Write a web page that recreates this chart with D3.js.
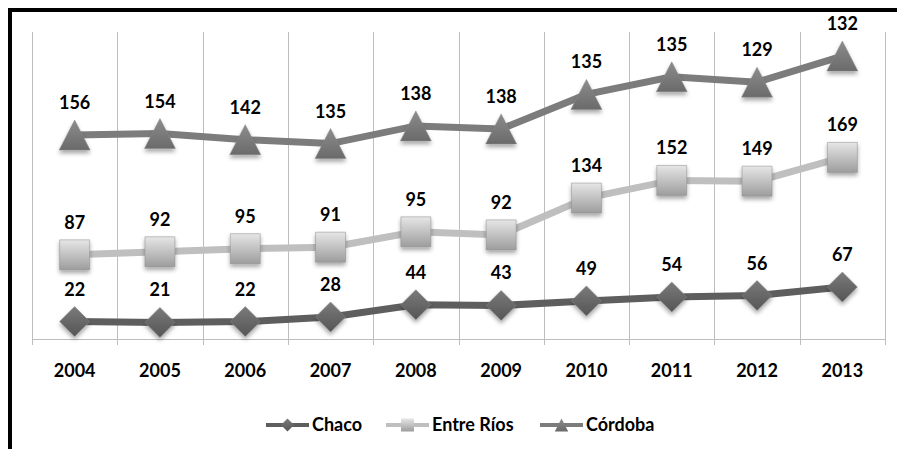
<!DOCTYPE html>
<html>
<head>
<meta charset="utf-8">
<script src="https://cdn.jsdelivr.net/npm/d3@7"></script>
<style>
  body { margin: 0; background: #fff; }
  svg text { font-family: Lato, "Open Sans", sans-serif; font-weight: bold; fill: #000; }
</style>
</head>
<body>
<div id="chart"></div>
<script>
const years = ["2004", "2005", "2006", "2007", "2008", "2009", "2010", "2011", "2012", "2013"];
const chaco = [22, 21, 22, 28, 44, 43, 49, 54, 56, 67];
const entreRios = [87, 92, 95, 91, 95, 92, 134, 152, 149, 169];
const cordoba = [156, 154, 142, 135, 138, 138, 135, 135, 129, 132];
const seriesNames = ["Chaco", "Entre Ríos", "Córdoba"];

const width = 897, height = 449;
const svg = d3.select("#chart").append("svg")
    .attr("width", width)
    .attr("height", height);

const defs = svg.append("defs");
const shadow = defs.append("filter").attr("id", "shadow")
    .attr("x", "-50%").attr("y", "-50%").attr("width", "200%").attr("height", "200%");
shadow.append("feDropShadow")
    .attr("dx", 0).attr("dy", 3).attr("stdDeviation", 2)
    .attr("flood-color", "#000").attr("flood-opacity", 0.35);

const gradient = (id, light, dark) => {
    const g = defs.append("linearGradient").attr("id", id)
        .attr("x1", 0).attr("y1", 0).attr("x2", 0).attr("y2", 1);
    g.append("stop").attr("offset", "0%").attr("stop-color", light);
    g.append("stop").attr("offset", "100%").attr("stop-color", dark);
};
gradient("gChaco", "#7a7a7a", "#555");
gradient("gEntre", "#e6e6e6", "#9d9d9d");
gradient("gCordoba", "#8c8c8c", "#6a6a6a");

// frame
svg.append("path")
    .attr("d", "M10,449 V10 H897")
    .attr("fill", "none")
    .attr("stroke", "#000")
    .attr("stroke-width", 4);

const x = d3.scaleBand().domain(years).range([32, 885]);
const y = d3.scaleLinear().domain([0, 400]).range([338.5, 31.5]);

const table = years.map((yr, i) => ({
    year: yr, "Chaco": chaco[i], "Entre Ríos": entreRios[i], "Córdoba": cordoba[i]
}));
const stacked = d3.stack().keys(seriesNames)(table);

// gridlines
const bounds = years.map(d => x(d)).concat([x.range()[1]]);
svg.append("g").selectAll("line").data(bounds).join("line")
    .attr("x1", d => Math.round(d) + 0.5).attr("x2", d => Math.round(d) + 0.5)
    .attr("y1", 32).attr("y2", 345)
    .attr("stroke", "#bdbdbd").attr("stroke-width", 1);

svg.append("line")
    .attr("x1", 32).attr("x2", 885.5)
    .attr("y1", 339.5).attr("y2", 339.5)
    .attr("stroke", "#bdbdbd");

// x labels
svg.append("g").selectAll("text").data(years).join("text")
    .attr("x", d => x(d) + x.bandwidth() / 2)
    .attr("y", 377)
    .attr("text-anchor", "middle")
    .attr("font-size", 18)
    .text(d => d);

const styles = {
    "Chaco": {line: "#5e5e5e", width: 7, fill: "url(#gChaco)", shape: "diamond"},
    "Entre Ríos": {line: "#bfbfbf", width: 7, fill: "url(#gEntre)", shape: "square"},
    "Córdoba": {line: "#7c7c7c", width: 7, fill: "url(#gCordoba)", shape: "triangle"}
};

const markerPath = (shape, s) => {
    if (shape === "diamond") return `M0,${-s} L${s},0 L0,${s} L${-s},0 Z`;
    if (shape === "square") return `M${-s},${-s} H${s} V${s} H${-s} Z`;
    return `M0,${-s} L${s * 1.03},${s} L${-s * 1.03},${s} Z`;
};
const markerSize = {diamond: 15, square: 15, triangle: 15};

const cx = d => x(d.data.year) + x.bandwidth() / 2;
const line = d3.line().x(cx).y(d => y(d[1]));

stacked.forEach(layer => {
    const st = styles[layer.key];
    const g = svg.append("g");
    g.append("path").datum(layer)
        .attr("d", line)
        .attr("fill", "none")
        .attr("stroke", st.line)
        .attr("stroke-width", st.width);
    g.selectAll("path.m").data(layer).join("path")
        .attr("class", "m")
        .attr("transform", d => `translate(${cx(d)},${y(d[1])})`)
        .attr("d", markerPath(st.shape, markerSize[st.shape]))
        .attr("fill", st.fill)
        .attr("stroke", "#888")
        .attr("stroke-width", 0.5)
        .attr("filter", "url(#shadow)");
    g.selectAll("text").data(layer).join("text")
        .attr("x", cx)
        .attr("y", d => y(d[1]) - 26)
        .attr("text-anchor", "middle")
        .attr("font-size", 18)
        .text(d => d.data[layer.key]);
});

// legend
const legendItems = [
    {name: "Chaco", x0: 266},
    {name: "Entre Ríos", x0: 386},
    {name: "Córdoba", x0: 540}
];
const lg = svg.append("g");
legendItems.forEach(it => {
    const st = styles[it.name];
    lg.append("line")
        .attr("x1", it.x0).attr("x2", it.x0 + 43)
        .attr("y1", 425).attr("y2", 425)
        .attr("stroke", st.line).attr("stroke-width", 4);
    lg.append("path")
        .attr("transform", `translate(${it.x0 + 21.5},425)`)
        .attr("d", markerPath(st.shape, 6.5))
        .attr("fill", st.fill);
    lg.append("text")
        .attr("x", it.x0 + 46)
        .attr("y", 431)
        .attr("font-size", 18)
        .text(it.name);
});
</script>
</body>
</html>
